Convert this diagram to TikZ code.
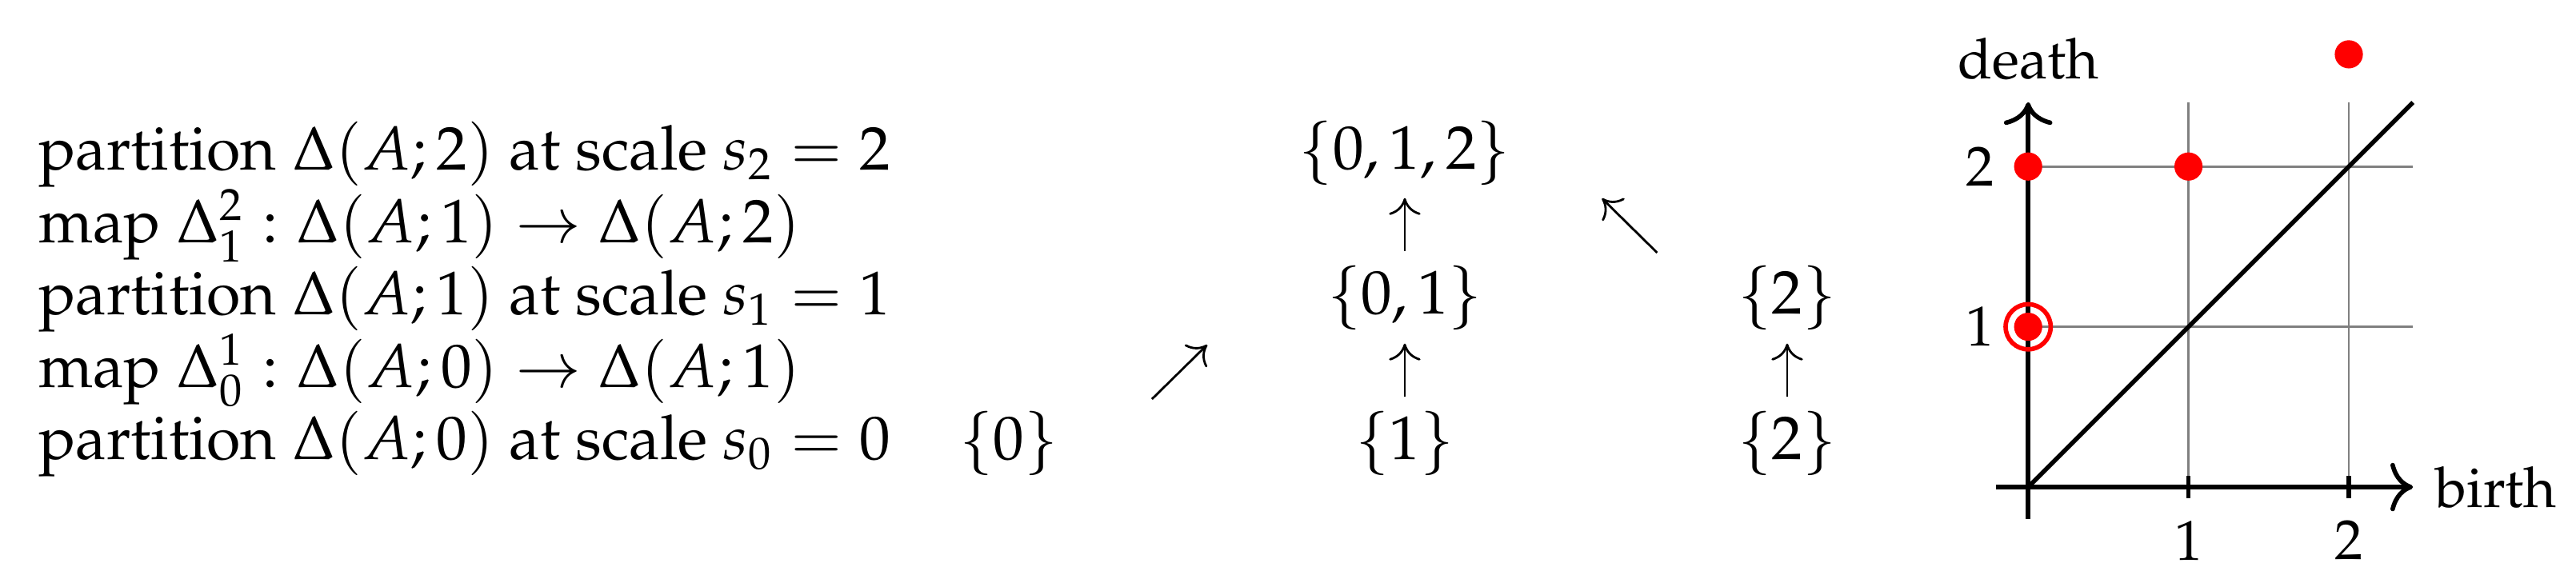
\documentclass[tikz,border=0pt,11pt]{standalone}
\usepackage[T1]{fontenc}
\usepackage{mathpazo}
\usetikzlibrary{arrows.meta}

\begin{document}
\begin{tikzpicture}[
    txt/.style={anchor=base west,inner sep=0pt,align=left,font={\fontsize{10.95}{12.85}\selectfont}},
    part/.style={anchor=base,inner xsep=2pt,inner ysep=3pt,text height=8pt,text depth=2pt},
    mapto/.style={-{To[length=3pt,width=5.6pt]}},
    axis/.style={thick,-{To[length=4pt,width=8.6pt]}},
    lbl/.style={font=\small},
  ]
  \useasboundingbox (-12.65,-0.594) rectangle (3.417,3.039);
  % scales and maps (base = last line)
  \node[txt] (steps) at (-12.416,0.170) {partition $\Delta(A;2)$ at scale $s_2 = 2$\\
    map $\Delta_1^2 : \Delta(A;1) \to \Delta(A;2)$\\
    partition $\Delta(A;1)$ at scale $s_1 = 1$\\
    map $\Delta_0^1 : \Delta(A;0) \to \Delta(A;1)$\\
    partition $\Delta(A;0)$ at scale $s_0 = 0$};
  % partitions
  \node[part] (p012) at (-3.888,1.986) {$\{0,1,2\}$};
  \node[part] (p01) at (-3.888,1.078) {$\{0,1\}$};
  \node[part] (p2b) at (-1.503,1.078) {$\{2\}$};
  \node[part] (p0) at (-6.358,0.170) {$\{0\}$};
  \node[part] (p1) at (-3.888,0.170) {$\{1\}$};
  \node[part] (p2a) at (-1.503,0.170) {$\{2\}$};
  \draw[mapto] (p1) -- (p01);
  \draw[mapto] (p01) -- (p012);
  \draw[mapto] (p2a) -- (p2b);
  \coordinate (ne0) at (-5.465,0.549);
  \coordinate (ne1) at (-5.120,0.888);
  \coordinate (nw0) at (-2.314,1.462);
  \coordinate (nw1) at (-2.658,1.801);
  \draw[mapto] (ne0) -- (ne1);
  \draw[mapto] (nw0) -- (nw1);
  % persistence diagram
  \draw[gray,thin] (0,0) grid (2.4,2.4);
  \draw[thick] (0,0) -- (2.4,2.4);
  \draw[axis] (-0.2,0) -- (2.4,0) node[right,lbl] {birth};
  \draw[axis] (0,-0.2) -- (0,2.4) node[above,lbl] {death};
  \foreach \t in {1,2} {
    \draw[thick] (\t,2pt) -- (\t,-2pt) node[below,lbl] {$\t$};
    \draw[thick] (2pt,\t) -- (-2pt,\t) node[left,lbl] {$\t$};
  }
  \fill[red] (0,1) circle (2.5pt);
  \fill[red] (0,2) circle (2.5pt);
  \fill[red] (1,2) circle (2.5pt);
  \fill[red] (2,2.7) circle (2.5pt);
  \draw[red,thick] (0,1) circle (4pt);
\end{tikzpicture}
\end{document}
